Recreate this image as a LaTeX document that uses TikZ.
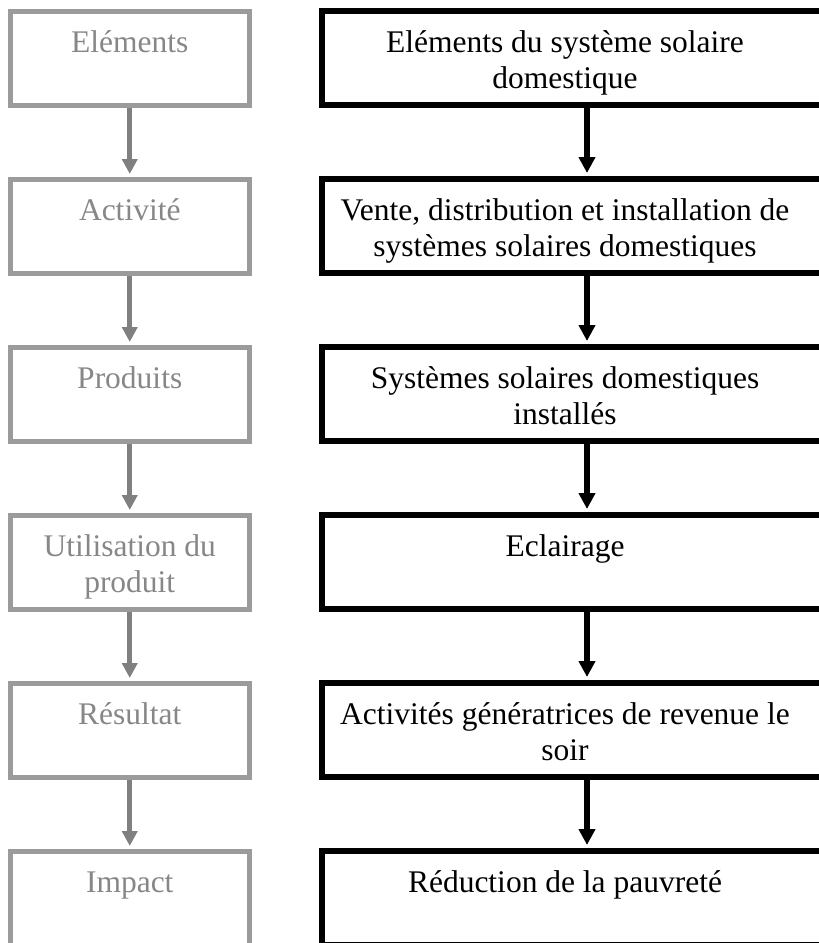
\documentclass[tikz,border=0pt]{standalone}
\usepackage{fontspec}
\setmainfont{Liberation Serif}
\usetikzlibrary{arrows.meta}
\definecolor{framegray}{RGB}{155,155,155}
\definecolor{labelgray}{RGB}{135,135,135}
\definecolor{arrowgray}{RGB}{128,128,128}

\begin{document}
\begin{tikzpicture}[x=1pt,y=-1pt,
  stagebox/.style={draw=framegray, line width=5pt, minimum width=239.5pt,
    minimum height=94pt, inner sep=0pt},
  chainbox/.style={draw=black, line width=6pt, minimum width=530pt,
    minimum height=94pt, inner sep=0pt},
  % the base anchor of a multi-line node sits on its last line
  boxtext/.style={font=\fontsize{31.5}{36.5}\selectfont, align=center,
    anchor=base, inner sep=0pt},
  stagetext/.style={boxtext, text=labelgray},
  chaintext/.style={boxtext, text=black},
  graylink/.style={draw=arrowgray, line width=5pt, shorten >=2.5pt,
    -{Triangle[width=15pt,length=15pt]}},
  blacklink/.style={draw=black, line width=6pt, shorten >=3pt,
    -{Triangle[width=16pt,length=16pt]}}
]
\useasboundingbox (0,0) rectangle (819,943);
\clip (0,0) rectangle (819,943);

% left column: stages of the results chain
\node[stagebox] (s1) at (129.75,58) {};
\node[stagebox] (s2) at (129.75,226) {};
\node[stagebox] (s3) at (129.75,394) {};
\node[stagebox] (s4) at (129.75,562) {};
\node[stagebox] (s5) at (129.75,730) {};
\node[stagebox] (s6) at (129.75,898) {};

\node[stagetext] (l1) at (129.75,52) {Eléments};
\node[stagetext] (l2) at (129.75,220) {Activité};
\node[stagetext] (l3) at (129.75,388) {Produits};
\node[stagetext] (l4) at (129.75,592.5) {Utilisation du\\produit};
\node[stagetext] (l5) at (129.75,724) {Résultat};
\node[stagetext] (l6) at (129.75,892) {Impact};

% right column: solar home system chain
\node[chainbox] (c1) at (587,58) {};
\node[chainbox] (c2) at (587,226) {};
\node[chainbox] (c3) at (587,394) {};
\node[chainbox] (c4) at (587,562) {};
\node[chainbox] (c5) at (587,730) {};
\node[chainbox] (c6) at (587,898) {};

\node[chaintext] (r1) at (565,88.5) {Eléments du système solaire\\domestique};
\node[chaintext] (r2) at (565,256.5) {Vente, distribution et installation de\\systèmes solaires domestiques};
\node[chaintext] (r3) at (565,424.5) {Systèmes solaires domestiques\\installés};
\node[chaintext] (r4) at (565,556) {Eclairage};
\node[chaintext] (r5) at (565,760.5) {Activités génératrices de revenue le\\soir};
\node[chaintext] (r6) at (565,892) {Réduction de la pauvreté};

% connectors
\draw[graylink] (s1.south) -- (s2.north);
\draw[graylink] (s2.south) -- (s3.north);
\draw[graylink] (s3.south) -- (s4.north);
\draw[graylink] (s4.south) -- (s5.north);
\draw[graylink] (s5.south) -- (s6.north);

\draw[blacklink] (c1.south) -- (c2.north);
\draw[blacklink] (c2.south) -- (c3.north);
\draw[blacklink] (c3.south) -- (c4.north);
\draw[blacklink] (c4.south) -- (c5.north);
\draw[blacklink] (c5.south) -- (c6.north);
\end{tikzpicture}
\end{document}
